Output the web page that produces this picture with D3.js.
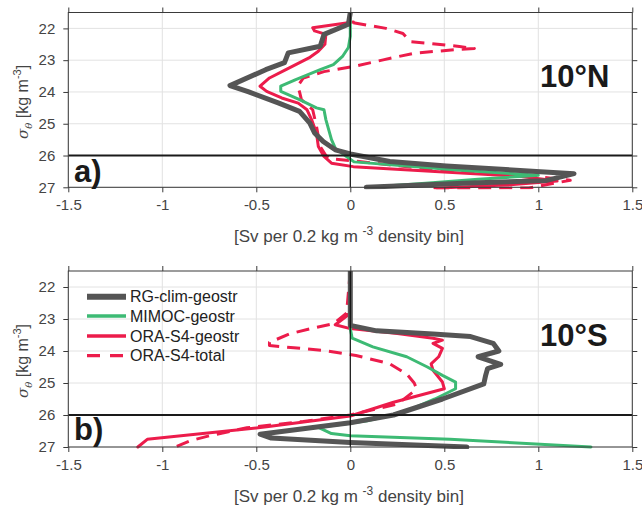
<!DOCTYPE html>
<html><head><meta charset="utf-8">
<script src="https://cdn.jsdelivr.net/npm/d3@7"></script>
<style>body{margin:0;background:#fff} text{font-family:"Liberation Sans",Arial,Helvetica,sans-serif}</style>
</head><body><svg id="c" width="642" height="508"></svg>
<script>
// ---------- data ----------
const xTicks = [-1.5, -1, -0.5, 0, 0.5, 1, 1.5];
const xTickLabels = ["-1.5", "-1", "-0.5", "0", "0.5", "1", "1.5"];
const yTicks = [22, 23, 24, 25, 26, 27];
const seriesNames = ["RG-clim-geostr", "MIMOC-geostr", "ORA-S4-geostr", "ORA-S4-total"];
const panelLabels = ["a)", "b)"];
const panelTitles = ["10°N", "10°S"];

// 10°N
const sigN_RG  = [21.5, 21.87, 22.19, 22.56, 22.77, 23.08, 23.3, 23.8, 24.0, 24.35, 24.61, 24.98, 25.29, 25.56, 25.82, 25.95, 26.19, 26.33, 26.5, 26.57, 26.79, 26.87, 27.0];
const valN_RG  = [0.0, -0.01, -0.14, -0.16, -0.33, -0.35, -0.45, -0.64, -0.54, -0.38, -0.27, -0.215, -0.19, -0.144, -0.08, 0.0, 0.21, 0.51, 0.99, 1.19, 1.04, 0.6, 0.085];
const sigN_MIM = [21.6, 22.25, 22.6, 22.87, 23.14, 23.3, 23.61, 23.82, 23.98, 24.24, 24.5, 24.56, 24.87, 25.5, 25.77, 26.03, 26.2, 26.45, 26.62, 26.75, 26.87, 27.0];
const valN_MIM = [0.0, 0.0, -0.01, -0.04, -0.09, -0.16, -0.29, -0.37, -0.37, -0.27, -0.18, -0.14, -0.13, -0.1, -0.08, -0.02, 0.02, 0.55, 1.0, 0.68, 0.4, 0.1];
const sigN_ORA = [21.8, 21.98, 22.08, 22.19, 22.5, 22.72, 22.93, 23.29, 23.56, 23.82, 23.98, 24.19, 24.35, 24.56, 24.87, 25.29, 25.72, 26.03, 26.24, 26.35, 26.5, 26.65, 26.8, 26.92, 27.03];
const valN_ORA = [0.016, -0.2, -0.19, -0.13, -0.135, -0.17, -0.22, -0.34, -0.43, -0.48, -0.445, -0.365, -0.277, -0.23, -0.206, -0.18, -0.17, -0.14, -0.1, 0.016, 0.45, 0.9, 1.1, 0.85, 0.45];
const sigN_TOT = [21.82, 22.0, 22.16, 22.42, 22.47, 22.57, 22.63, 22.66, 22.78, 22.99, 23.2, 23.36, 23.56, 23.82, 24.0, 24.24, 24.56, 25.08, 25.72, 26.0, 26.1, 26.16, 26.43, 26.56, 26.66, 26.78, 27.02, 27.05];
const valN_TOT = [0.016, 0.19, 0.28, 0.32, 0.42, 0.58, 0.66, 0.58, 0.34, 0.175, 0.016, -0.14, -0.25, -0.28, -0.27, -0.26, -0.2, -0.18, -0.16, -0.13, -0.11, 0.0, 0.42, 0.74, 0.99, 1.17, 0.95, 0.42];

// 10°S
const sigS_RG  = [21.5, 23.2, 23.37, 23.47, 23.55, 23.76, 24.0, 24.18, 24.42, 24.55, 24.76, 25.03, 25.5, 26.0, 26.24, 26.6, 26.72, 26.86, 27.0];
const valS_RG  = [0.0, 0.0, 0.14, 0.44, 0.64, 0.76, 0.79, 0.68, 0.8, 0.73, 0.72, 0.71, 0.49, 0.23, 0.0, -0.48, -0.42, 0.0, 0.62];
const sigS_MIM = [21.5, 23.3, 23.6, 23.87, 24.18, 24.5, 24.76, 24.97, 25.18, 25.5, 25.8, 26.0, 26.18, 26.39, 26.58, 26.65, 26.76, 27.0];
const valS_MIM = [0.0, 0.0, 0.01, 0.12, 0.3, 0.41, 0.49, 0.56, 0.56, 0.45, 0.33, 0.22, 0.09, -0.17, -0.1, 0.0, 0.53, 1.28];
const sigS_ORA = [21.5, 22.82, 23.18, 23.3, 23.45, 23.6, 23.66, 23.76, 23.92, 24.18, 24.4, 24.6, 24.97, 25.18, 25.6, 26.03, 26.37, 26.76, 27.0];
const valS_ORA = [0.0, 0.0, -0.08, 0.0, 0.25, 0.44, 0.49, 0.44, 0.49, 0.47, 0.43, 0.44, 0.49, 0.5, 0.23, 0.0, -0.445, -1.08, -1.13];
const sigS_TOT = [21.5, 22.82, 23.15, 23.26, 23.46, 23.73, 23.83, 23.9, 23.99, 24.14, 24.4, 24.72, 25.0, 25.14, 25.3, 25.66, 25.77, 26.0, 26.2, 26.4, 26.65, 26.8, 27.0];
const valS_TOT = [0.0, -0.02, -0.09, -0.18, -0.32, -0.43, -0.43, -0.3, -0.13, 0.03, 0.21, 0.3, 0.34, 0.35, 0.33, 0.25, 0.17, 0.0, -0.25, -0.55, -0.75, -0.85, -0.93];

// ---------- style ----------
const colRG = "#555555", colMIM = "#3dba74", colORA = "#ec1c4b";
const styles = [
  {color: colRG, width: 5, dash: null},
  {color: colMIM, width: 3, dash: null},
  {color: colORA, width: 3, dash: null},
  {color: colORA, width: 3, dash: "13,8"}
];
const panelData = [
  [[sigN_RG, valN_RG], [sigN_MIM, valN_MIM], [sigN_ORA, valN_ORA], [sigN_TOT, valN_TOT]],
  [[sigS_RG, valS_RG], [sigS_MIM, valS_MIM], [sigS_ORA, valS_ORA], [sigS_TOT, valS_TOT]]
];
const panelRanges = [[12.5, 187.3], [271, 447]];

const svg = d3.select("#c");
svg.append("rect").attr("width", 642).attr("height", 508).attr("fill", "#fff");
const x = d3.scaleLinear().domain([-1.5, 1.5]).range([68.3, 632.3]);
const axisCol = "#3a3a3a", labCol = "#444";

panelData.forEach((series, pi) => {
  const [top, bot] = panelRanges[pi];
  const y = d3.scaleLinear().domain([21.5, 27]).range([top, bot]);
  const g = svg.append("g");
  // grid
  g.selectAll(".gx").data(xTicks).join("line")
    .attr("x1", d => x(d)).attr("x2", d => x(d)).attr("y1", top).attr("y2", bot)
    .attr("stroke", "#e2e2e2").attr("stroke-width", 1);
  g.selectAll(".gy").data(yTicks).join("line")
    .attr("x1", x(-1.5)).attr("x2", x(1.5)).attr("y1", d => y(d)).attr("y2", d => y(d))
    .attr("stroke", "#e2e2e2").attr("stroke-width", 1);
  // clip
  const cid = "clip" + pi;
  svg.append("clipPath").attr("id", cid).append("rect")
    .attr("x", x(-1.5)).attr("y", top).attr("width", x(1.5) - x(-1.5)).attr("height", bot - top + 2);
  const dg = g.append("g").attr("clip-path", `url(#${cid})`);
  const line = d3.line().x(d => x(d[1])).y(d => y(d[0]));
  const order = [3, 2, 1, 0];
  order.forEach(si => {
    const [sg, vl] = series[si];
    const pts = sg.map((s, i) => [s, vl[i]]);
    const st = styles[si];
    dg.append("path").datum(pts).attr("d", line).attr("fill", "none")
      .attr("stroke", st.color).attr("stroke-width", st.width)
      .attr("stroke-linejoin", "round").attr("stroke-linecap", st.dash ? "butt" : "round")
      .attr("stroke-dasharray", st.dash);
  });
  // reference lines
  g.append("line").attr("x1", x(0)).attr("x2", x(0)).attr("y1", top).attr("y2", bot)
    .attr("stroke", "#111").attr("stroke-width", 1.2);
  g.append("line").attr("x1", x(-1.5)).attr("x2", x(1.5)).attr("y1", y(26)).attr("y2", y(26))
    .attr("stroke", "#1a1a1a").attr("stroke-width", 2.2);
  // box
  g.append("rect").attr("x", x(-1.5)).attr("y", top).attr("width", x(1.5) - x(-1.5)).attr("height", bot - top)
    .attr("fill", "none").attr("stroke", axisCol).attr("stroke-width", 1);
  // axes
  const fmt = (d) => xTickLabels[xTicks.indexOf(d)];
  const ax = [
    g.append("g").attr("transform", `translate(0,${bot})`).call(d3.axisBottom(x).tickValues(xTicks).tickFormat(fmt).tickSize(5).tickSizeOuter(0).tickPadding(7)),
    g.append("g").attr("transform", `translate(0,${top})`).call(d3.axisTop(x).tickValues(xTicks).tickFormat("").tickSize(5).tickSizeOuter(0)),
    g.append("g").attr("transform", `translate(${x(-1.5)},0)`).call(d3.axisLeft(y).tickValues(yTicks).tickFormat(d3.format("d")).tickSize(5).tickSizeOuter(0).tickPadding(8)),
    g.append("g").attr("transform", `translate(${x(1.5)},0)`).call(d3.axisRight(y).tickValues(yTicks).tickFormat("").tickSize(5).tickSizeOuter(0))
  ];
  ax.forEach(a => {
    a.select(".domain").remove();
    a.selectAll(".tick line").attr("stroke", axisCol);
    a.selectAll(".tick text").attr("fill", labCol).style("font-size", "15px").style("font-family", "'Liberation Sans',Arial,sans-serif");
  });
  // x axis title
  const xt = g.append("text").attr("x", 349).attr("y", bot + 55).attr("text-anchor", "middle")
    .attr("fill", labCol).style("font-size", "17px");
  xt.append("tspan").text("[Sv per 0.2 kg m ");
  xt.append("tspan").attr("dy", -7).style("font-size", "12px").text("-3");
  xt.append("tspan").attr("dy", 7).text(" density bin]");
  // y axis title
  const cy = (top + bot) / 2 + 2;
  const yt = g.append("text").attr("transform", `translate(28,${cy}) rotate(-90)`).attr("text-anchor", "middle")
    .attr("fill", labCol).style("font-size", "16px");
  yt.append("tspan").style("font-family", "'DejaVu Serif',serif").style("font-style", "italic").style("font-size", "15px").text("σ");
  yt.append("tspan").attr("dy", 4).style("font-family", "'DejaVu Serif',serif").style("font-style", "italic").style("font-size", "10px").text("θ");
  yt.append("tspan").attr("dy", -4).text(" [kg m");
  yt.append("tspan").attr("dy", -7).style("font-size", "11px").text("-3");
  yt.append("tspan").attr("dy", 7).text("]");
  // labels
  g.append("text").attr("x", 74).attr("y", pi === 0 ? 182 : 440).attr("fill", "#1a1a1a")
    .style("font-size", "31px").style("font-weight", "bold").text(panelLabels[pi]);
  g.append("text").attr("x", 540).attr("y", pi === 0 ? 87 : 346).attr("fill", "#1a1a1a")
    .style("font-size", "31px").style("font-weight", "bold").text(panelTitles[pi]);
});

// legend (panel b)
const leg = svg.append("g");
const legY = [296.7, 316, 336, 355.7];
seriesNames.forEach((nm, i) => {
  const st = styles[i];
  leg.append("line").attr("x1", 87).attr("x2", 126).attr("y1", legY[i]).attr("y2", legY[i])
    .attr("stroke", st.color).attr("stroke-width", i === 0 ? 6 : 3.3).attr("stroke-dasharray", st.dash ? "13,10" : null);
  leg.append("text").attr("x", 130).attr("y", legY[i] + 5.5).attr("fill", "#222")
    .style("font-size", "16px").text(nm);
});
</script></body></html>
